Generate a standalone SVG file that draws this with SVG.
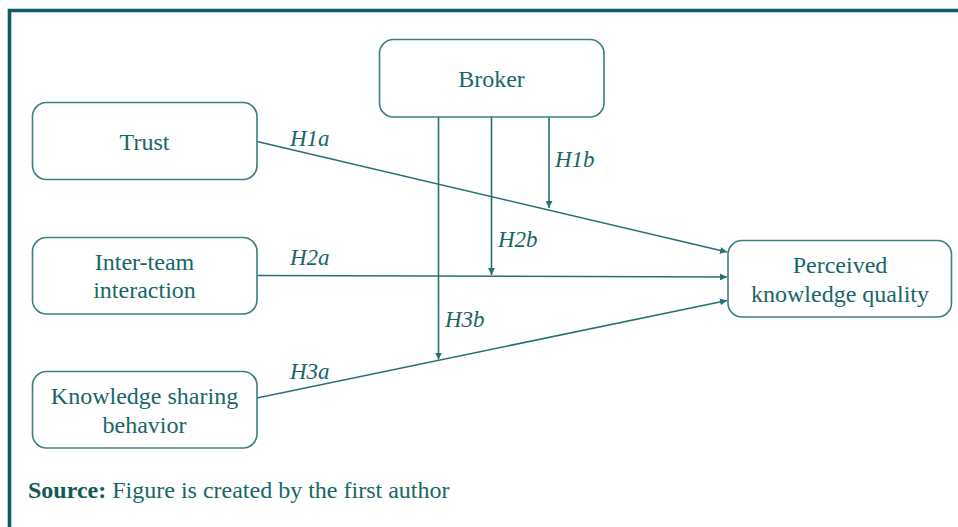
<svg xmlns="http://www.w3.org/2000/svg" width="958" height="527" viewBox="0 0 958 527">
<style>
.box{fill:#fff;stroke:#3d7f80;stroke-width:1.6}
.t{font-family:"Liberation Serif","Times New Roman",serif;font-size:24px;fill:#176768;text-anchor:middle}
.lab{font-family:"Liberation Serif","Times New Roman",serif;font-size:23px;font-style:italic;fill:#176768}
.ln{stroke:#277174;stroke-width:1.6;fill:none;marker-end:url(#ah)}
.src{font-family:"Liberation Serif","Times New Roman",serif;font-size:24px;fill:#176768}
</style>
<defs>
<marker id="ah" viewBox="0 0 10 10" refX="10" refY="5" markerWidth="7" markerHeight="7" markerUnits="userSpaceOnUse" orient="auto">
<path d="M0,0 L10,5 L0,10 z" fill="#277174"/>
</marker>
</defs>
<rect width="958" height="527" fill="#fff"/>
<path d="M9.5,527 V10.5 H958" fill="none" stroke="#0f5d61" stroke-width="3.6"/>
<g id="connectors">
<line class="ln" x1="257" y1="141.5" x2="727" y2="252"/>
<line class="ln" x1="257" y1="275.5" x2="727" y2="277"/>
<line class="ln" x1="257" y1="398" x2="727" y2="300.5"/>
<line class="ln" x1="549" y1="117" x2="549" y2="208"/>
<line class="ln" x1="491.5" y1="117" x2="491.5" y2="275"/>
<line class="ln" x1="438.5" y1="117" x2="438.5" y2="359.5"/>
<text class="lab" x="290" y="146">H1a</text>
<text class="lab" x="290" y="265">H2a</text>
<text class="lab" x="290" y="379">H3a</text>
<text class="lab" x="555" y="167">H1b</text>
<text class="lab" x="498" y="246.5">H2b</text>
<text class="lab" x="445" y="326.5">H3b</text>
</g>
<g id="broker">
<rect class="box" x="379.5" y="39.5" width="224.5" height="77.5" rx="14"/>
<text class="t" x="491.5" y="87">Broker</text>
</g>
<g id="trust">
<rect class="box" x="32.5" y="102.5" width="224.5" height="77" rx="14"/>
<text class="t" x="144.5" y="150">Trust</text>
</g>
<g id="interteam">
<rect class="box" x="32.5" y="237.5" width="224.5" height="76.5" rx="14"/>
<text class="t" x="144.5" y="270">Inter-team</text>
<text class="t" x="144.5" y="298">interaction</text>
</g>
<g id="ksb">
<rect class="box" x="32.5" y="371.5" width="224.5" height="76.5" rx="14"/>
<text class="t" x="144.5" y="404">Knowledge sharing</text>
<text class="t" x="144.5" y="432.5">behavior</text>
</g>
<g id="pkq">
<rect class="box" x="728" y="240.5" width="223.5" height="76.5" rx="14"/>
<text class="t" x="840" y="273">Perceived</text>
<text class="t" x="840" y="301.5">knowledge quality</text>
</g>
<text class="src" x="28" y="498"><tspan font-weight="bold" fill="#12585a">Source:</tspan> Figure is created by the first author</text>
</svg>
